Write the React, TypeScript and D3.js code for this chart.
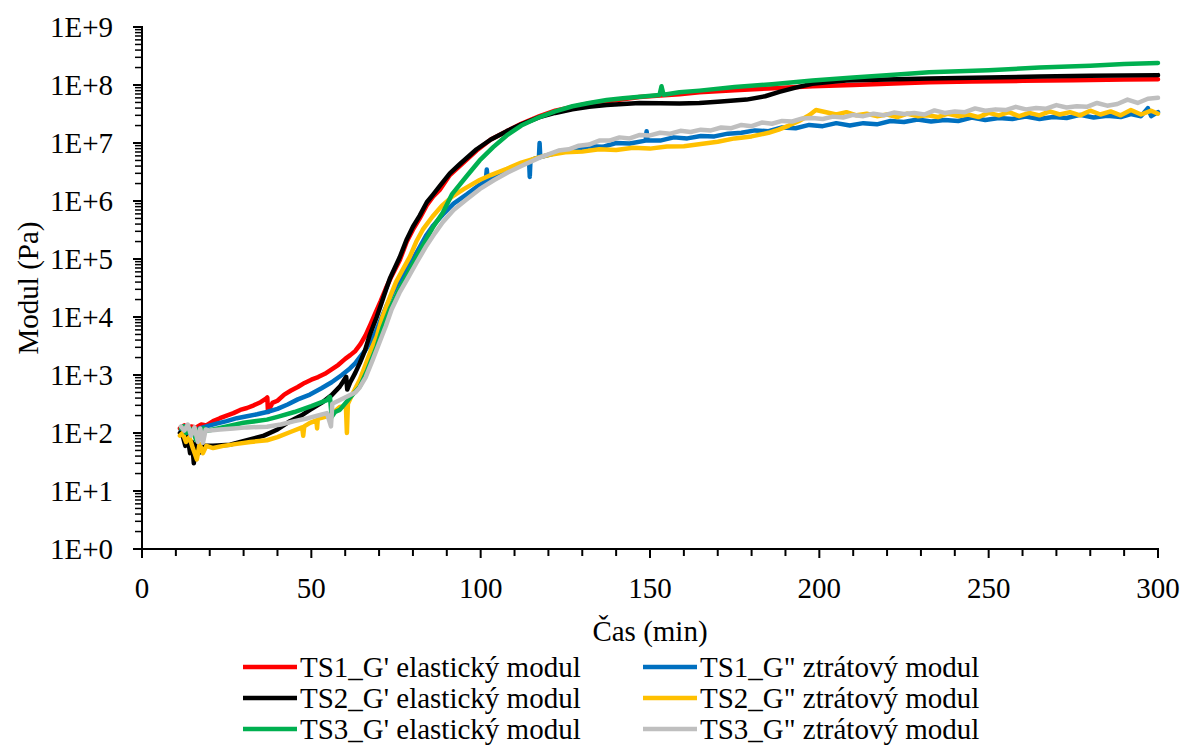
import React from "react";
import * as d3 from "d3";

type Pt = [number, number];

// Time (min), modulus (Pa)
const ts1Elastic: Pt[] = [
  [11.2, 1.2e2], [12.5, 1.35e2], [13.5, 1.15e2], [14.5, 1.3e2], [16, 1.25e2], [17.5, 1.4e2], [19, 1.35e2],
  [21, 1.6e2], [23, 1.8e2], [25, 2.0e2], [27, 2.2e2], [29, 2.5e2], [31, 2.7e2], [33, 3.0e2], [35, 3.4e2],
  [36.6, 3.9e2], [37.0, 4.1e2], [37.2, 2.3e2], [37.6, 2.6e2], [38.5, 3.3e2], [40, 3.6e2], [42, 4.6e2],
  [44, 5.4e2], [46, 6.2e2], [48, 7.3e2], [50, 8.3e2], [52, 9.2e2], [54, 1.05e3], [56, 1.25e3], [58, 1.5e3],
  [60, 1.9e3], [61.5, 2.2e3], [63, 2.6e3], [64.5, 3.4e3], [66, 4.8e3], [67.5, 7.5e3], [69, 1.2e4],
  [70.5, 1.9e4], [72, 3.1e4], [73.5, 4.8e4], [76.1, 9.5e4], [78.2, 2.0e5], [80, 3.2e5], [82, 5.0e5],
  [84.1, 8.5e5], [86, 1.2e6], [87.9, 1.55e6], [90.9, 2.8e6], [93.8, 4.0e6], [98.8, 7.4e6], [103, 1.15e7],
  [107.7, 1.6e7], [112, 2.15e7], [117.4, 2.9e7], [122, 3.6e7], [127.1, 4.2e7], [132, 4.8e7], [137.2, 5.2e7],
  [142, 5.7e7], [146.9, 6.2e7], [153, 6.6e7], [158.7, 6.9e7], [164.6, 7.5e7], [175, 8.1e7], [185, 8.7e7],
  [198, 9.5e7], [210, 1.0e8], [222, 1.06e8], [232.4, 1.12e8], [245, 1.15e8], [260, 1.18e8], [275, 1.21e8],
  [290, 1.24e8], [300, 1.26e8],
];

const ts1Loss: Pt[] = [
  [11.5, 1.1e2], [12.5, 1.3e2], [13.5, 9e1], [14.5, 1.1e2], [16, 1.0e2], [17, 1.2e2], [19, 1.3e2],
  [22, 1.45e2], [25, 1.6e2], [28, 1.8e2], [31, 1.95e2], [34, 2.1e2], [36.9, 2.3e2], [40, 2.6e2],
  [43, 3.1e2], [46, 3.8e2], [49.6, 4.6e2], [53, 5.9e2], [56, 7.5e2], [59, 1.0e3], [61.4, 1.3e3],
  [63, 1.6e3], [64.5, 2.1e3], [66, 2.7e3], [67.3, 3.6e3], [69, 5.5e3], [70.5, 9e3], [72.3, 1.6e4],
  [74, 2.6e4], [76, 4.2e4], [78, 6.6e4], [80, 1.0e5], [82, 1.6e5], [84, 2.6e5], [86, 3.8e5],
  [88.8, 5.8e5], [92, 9.0e5], [95.9, 1.3e6], [99.7, 1.9e6], [101.5, 2.2e6], [101.8, 3.5e6], [102.1, 2.3e6],
  [105, 2.8e6], [108, 3.4e6], [111, 4.0e6], [114.3, 4.8e6], [114.5, 2.6e6], [114.7, 5.0e6], [116, 5.4e6],
  [117.2, 5.6e6], [117.4, 1.0e7], [117.6, 5.7e6], [120, 6.2e6], [124, 7.2e6], [128, 7.6e6], [132, 8.8e6],
  [136, 8.6e6], [140, 1.0e7], [144, 9.8e6], [148.7, 1.1e7], [149, 1.6e7], [149.3, 1.1e7], [153, 1.1e7],
  [157, 1.25e7], [161, 1.2e7], [165, 1.32e7], [169, 1.3e7], [173, 1.45e7], [177, 1.5e7], [181, 1.65e7],
  [185, 1.6e7], [189, 1.85e7], [193, 1.8e7], [197, 2.05e7], [201, 1.95e7], [205, 2.2e7], [209, 2.0e7],
  [213, 2.2e7], [217, 2.1e7], [221, 2.4e7], [225, 2.3e7], [229, 2.55e7], [233, 2.35e7], [237, 2.5e7],
  [241, 2.4e7], [245, 2.75e7], [249, 2.5e7], [253, 2.7e7], [257, 2.6e7], [261, 2.85e7], [265, 2.6e7],
  [269, 2.8e7], [273, 2.7e7], [277, 3.05e7], [281, 2.75e7], [285, 2.95e7], [289, 2.8e7], [292, 3.15e7],
  [295, 2.9e7], [297, 4.0e7], [298, 2.9e7], [300, 3.4e7],
];

const ts2Elastic: Pt[] = [
  [11.2, 1.0e2], [12, 9e1], [12.8, 6e1], [13.5, 8.5e1], [14.2, 4.5e1], [14.8, 7e1], [15.3, 3.0e1],
  [16, 6.5e1], [16.8, 4.5e1], [17.5, 6e1], [18.5, 6e1], [21, 6e1], [26, 6.3e1], [31, 7.5e1], [36, 9e1],
  [40, 1.15e2], [43.7, 1.6e2], [47, 2.0e2], [49.6, 2.5e2], [53, 3.3e2], [56, 4.5e2], [58.4, 6.3e2],
  [60.3, 9.3e2], [60.6, 5.6e2], [61.5, 7.5e2], [63, 1.1e3], [64.3, 1.6e3], [65.8, 2.6e3], [67.3, 5.0e3],
  [69.3, 1.0e4], [70.5, 1.6e4], [72, 2.9e4], [73.2, 4.6e4], [76.1, 1.07e5], [78.2, 2.2e5], [80, 3.6e5],
  [82, 5.6e5], [84.1, 9.5e5], [86, 1.3e6], [87.9, 1.8e6], [90.9, 3.0e6], [93.8, 4.3e6], [98.8, 7.8e6],
  [103, 1.15e7], [107.7, 1.6e7], [112, 2.1e7], [117.4, 2.8e7], [122, 3.3e7], [127.1, 3.8e7], [132, 4.2e7],
  [137.2, 4.5e7], [142, 4.7e7], [146.9, 4.9e7], [153, 4.85e7], [158.7, 4.8e7], [164.6, 4.9e7], [171, 5.2e7],
  [178.5, 5.6e7], [184, 6.4e7], [188.2, 7.6e7], [193, 9.0e7], [197.9, 1.05e8], [203, 1.13e8], [208, 1.2e8],
  [220, 1.25e8], [232.4, 1.3e8], [250, 1.35e8], [265, 1.4e8], [280, 1.44e8], [300, 1.48e8],
];

const ts2Loss: Pt[] = [
  [11.2, 9e1], [12, 1.0e2], [13, 7e1], [14, 8.5e1], [15, 5.5e1], [16.2, 3.5e1], [17, 6.5e1], [18, 4.5e1],
  [19, 6e1], [21, 5.5e1], [24, 6e1], [28, 6.5e1], [32, 7e1], [36.9, 7.5e1], [40, 8.5e1], [44, 1.05e2],
  [47.3, 1.25e2], [47.6, 9e1], [47.9, 1.3e2], [49.6, 1.5e2], [51.5, 1.65e2], [51.7, 1.2e2], [51.9, 1.75e2],
  [55.5, 2.0e2], [58.4, 2.8e2], [60.2, 2.9e2], [60.5, 1.0e2], [60.8, 3.2e2], [62, 4.5e2], [64.3, 8.3e2],
  [66, 1.5e3], [67.5, 2.6e3], [69.3, 4.6e3], [71, 1.0e4], [73.2, 2.2e4], [75, 4.0e4], [77, 6.6e4],
  [79.1, 1.1e5], [81, 2.0e5], [82.9, 3.2e5], [85.8, 5.4e5], [88.5, 8.2e5], [91.7, 1.2e6], [95, 1.6e6],
  [99.7, 2.3e6], [103, 2.8e6], [107.7, 3.6e6], [112, 4.6e6], [117.4, 5.7e6], [120, 6.2e6], [125, 6.9e6],
  [130, 7.1e6], [135, 7.8e6], [140, 7.6e6], [145, 8.3e6], [150, 8.0e6], [155, 8.7e6], [160, 8.8e6],
  [165, 9.6e6], [170, 1.05e7], [175, 1.2e7], [180, 1.3e7], [185, 1.5e7], [188, 1.7e7], [191, 2.0e7],
  [194, 2.4e7], [197, 3.0e7], [199, 3.7e7], [202, 3.4e7], [205, 3.1e7], [208, 3.4e7], [211, 3.0e7],
  [214, 3.2e7], [217, 2.9e7], [220, 3.1e7], [223, 2.8e7], [226, 3.2e7], [229, 2.9e7], [232, 3.0e7],
  [235, 2.8e7], [238, 3.2e7], [241, 2.9e7], [244, 3.1e7], [247, 2.8e7], [250, 3.3e7], [253, 3.0e7],
  [256, 3.4e7], [259, 2.9e7], [262, 3.3e7], [265, 3.0e7], [268, 3.5e7], [271, 3.1e7], [274, 3.4e7],
  [277, 3.0e7], [280, 3.6e7], [283, 3.1e7], [286, 3.5e7], [289, 3.0e7], [292, 3.7e7], [295, 3.1e7],
  [298, 3.6e7], [300, 3.2e7],
];

const ts3Elastic: Pt[] = [
  [11.5, 1.2e2], [12.2, 1.3e2], [13, 1.0e2], [14, 1.2e2], [15, 1.1e2], [16, 7.5e1], [16.8, 1.15e2],
  [17.5, 8e1], [18.3, 1.2e2], [19.5, 1.1e2], [21, 1.15e2], [25, 1.3e2], [30, 1.5e2], [36.9, 1.7e2],
  [40, 1.9e2], [45, 2.3e2], [50, 2.9e2], [54.6, 3.7e2], [55.5, 4.2e2], [56, 1.9e2], [57, 2.3e2],
  [58.4, 2.5e2], [61, 3.8e2], [64.3, 6.3e2], [66.5, 1.2e3], [69.3, 3.1e3], [71, 6.5e3], [73.2, 1.4e4],
  [76, 3.0e4], [78.2, 5.2e4], [81.1, 1.1e5], [84, 2.2e5], [86, 3.6e5], [88.8, 6.3e5], [91.5, 1.3e6],
  [95.9, 2.7e6], [99.7, 5.0e6], [103.7, 8.5e6], [107.7, 1.35e7], [112, 2.0e7], [117.4, 2.8e7], [122, 3.5e7],
  [127.1, 4.3e7], [132, 4.9e7], [137.2, 5.5e7], [142, 5.9e7], [147, 6.3e7], [152.8, 6.7e7], [153.4, 9.5e7],
  [154, 6.8e7], [158.7, 7.5e7], [164.6, 8.0e7], [175, 9.2e7], [186, 1.03e8], [198, 1.2e8], [210, 1.35e8],
  [222, 1.5e8], [232.4, 1.66e8], [250, 1.8e8], [265, 2.0e8], [280, 2.15e8], [290, 2.3e8], [300, 2.4e8],
];

const ts3Loss: Pt[] = [
  [11.5, 1.3e2], [12.5, 1.1e2], [13.5, 1.4e2], [14.5, 9e1], [15.5, 1.25e2], [16.5, 7e1], [17.2, 1.2e2],
  [18, 6.8e1], [18.8, 1.15e2], [20, 1.1e2], [23, 1.15e2], [27, 1.2e2], [31, 1.25e2], [36.9, 1.28e2],
  [41, 1.4e2], [45, 1.6e2], [49, 1.8e2], [52, 2.0e2], [54.6, 2.2e2], [55.8, 1.3e2], [56.2, 3.2e2],
  [58, 3.6e2], [61, 4.4e2], [63, 5.0e2], [64.2, 6.0e2], [66, 9.0e2], [68.1, 1.8e3], [70, 3.5e3],
  [72, 7.0e3], [73.7, 1.35e4], [76, 2.6e4], [78.5, 4.7e4], [81.1, 8.7e4], [84, 1.7e5], [86.5, 2.8e5],
  [88.8, 4.3e5], [92, 7.0e5], [95.9, 1.07e6], [99.7, 1.6e6], [104, 2.3e6], [108, 3.1e6], [112, 4.0e6],
  [117.4, 5.6e6], [120, 6.4e6], [123, 7.4e6], [126, 7.8e6], [129, 9.0e6], [132, 9.4e6], [135, 1.1e7],
  [138, 1.1e7], [141, 1.25e7], [144, 1.2e7], [147, 1.38e7], [150, 1.35e7], [153, 1.5e7], [156, 1.45e7],
  [159, 1.62e7], [162, 1.55e7], [165, 1.7e7], [168, 1.65e7], [171, 1.85e7], [174, 1.8e7], [177, 2.05e7],
  [180, 1.95e7], [183, 2.25e7], [186, 2.15e7], [189, 2.4e7], [192, 2.35e7], [195, 2.65e7], [198, 2.7e7],
  [201, 2.6e7], [204, 2.85e7], [207, 2.75e7], [210, 3.05e7], [213, 2.9e7], [216, 3.2e7], [219, 3.0e7],
  [222, 3.35e7], [225, 3.15e7], [228, 3.3e7], [231, 3.1e7], [234, 3.65e7], [237, 3.3e7], [240, 3.5e7],
  [243, 3.4e7], [246, 3.95e7], [249, 3.6e7], [252, 3.8e7], [255, 3.7e7], [258, 4.2e7], [261, 3.8e7],
  [264, 4.0e7], [267, 3.9e7], [270, 4.5e7], [273, 4.1e7], [276, 4.3e7], [279, 4.2e7], [282, 4.9e7],
  [285, 4.4e7], [288, 4.7e7], [291, 5.6e7], [294, 4.9e7], [297, 5.8e7], [300, 6.0e7],
];

const seriesNames = [
  "TS1_G' elastický modul",
  'TS1_G" ztrátový modul',
  "TS2_G' elastický modul",
  'TS2_G" ztrátový modul',
  "TS3_G' elastický modul",
  'TS3_G" ztrátový modul',
];
const seriesColors = ["#FF0000", "#0070C0", "#000000", "#FFC000", "#00B050", "#BFBFBF"];
const seriesData = [ts1Elastic, ts1Loss, ts2Elastic, ts2Loss, ts3Elastic, ts3Loss];

const xMajorTicks = [0, 50, 100, 150, 200, 250, 300];
const yExponents = [0, 1, 2, 3, 4, 5, 6, 7, 8, 9];
const xTitle = "Čas (min)";
const yTitle = "Modul (Pa)";

const W = 1184;
const H = 749;
const FONT = '"Liberation Serif", "Times New Roman", "DejaVu Serif", serif';
const textStyle = { fontFamily: FONT, fontSize: "29px" };

export default function App() {
  const left = 142, right = 1158, top = 27, bottom = 549;
  const x = d3.scaleLinear().domain([0, 300]).range([left, right]);
  const y = d3.scaleLog().domain([1, 1e9]).range([bottom, top]);
  const line = d3.line<Pt>().x((d) => x(d[0])).y((d) => y(d[1]));

  const xMinor = d3.range(0, 301, 10).filter((v) => v % 50 !== 0);
  const yMinor: number[] = [];
  yExponents.slice(0, -1).forEach((k) => {
    for (let m = 2; m <= 9; m++) yMinor.push(m * Math.pow(10, k));
  });

  const legendCols = [243, 643];
  const legendRows = [667, 698, 729];

  return (
    <div style={{ position: "absolute", left: 0, top: 0 }}>
      <svg width={W} height={H} style={{ display: "block", background: "#fff" }}>
        <rect x={0} y={0} width={W} height={H} fill="#fff" />
        {seriesData.map((d, i) => (
          <path
            key={i}
            d={line(d) || ""}
            fill="none"
            stroke={seriesColors[i]}
            strokeWidth={4.5}
            strokeLinejoin="round"
            strokeLinecap="round"
          />
        ))}
        <line x1={left} x2={left} y1={top - 1} y2={bottom} stroke="#000" strokeWidth={2} />
        <line x1={left - 1} x2={right + 1} y1={bottom} y2={bottom} stroke="#000" strokeWidth={2} />
        {yExponents.map((k) => (
          <g key={"ym" + k}>
            <line x1={left - 9} x2={left} y1={y(Math.pow(10, k))} y2={y(Math.pow(10, k))} stroke="#000" strokeWidth={2} />
            <text x={113} y={y(Math.pow(10, k))} dy="0.35em" textAnchor="end" style={textStyle} fill="#000">
              {`1E+${k}`}
            </text>
          </g>
        ))}
        {yMinor.map((v, i) => (
          <line key={"yn" + i} x1={left - 7} x2={left} y1={y(v)} y2={y(v)} stroke="#000" strokeWidth={1.5} />
        ))}
        {xMajorTicks.map((t) => (
          <g key={"xm" + t}>
            <line x1={x(t)} x2={x(t)} y1={bottom} y2={bottom + 9} stroke="#000" strokeWidth={2} />
            <text x={x(t)} y={598} textAnchor="middle" style={textStyle} fill="#000">
              {t}
            </text>
          </g>
        ))}
        {xMinor.map((t) => (
          <line key={"xn" + t} x1={x(t)} x2={x(t)} y1={bottom} y2={bottom + 7} stroke="#000" strokeWidth={2} />
        ))}
        <text x={(left + right) / 2} y={641} textAnchor="middle" style={textStyle} fill="#000">
          {xTitle}
        </text>
        <text
          transform={`translate(38, ${(top + bottom) / 2}) rotate(-90)`}
          textAnchor="middle"
          style={textStyle}
          fill="#000"
        >
          {yTitle}
        </text>
        {seriesNames.map((name, i) => {
          const cx = legendCols[i % 2];
          const cy = legendRows[Math.floor(i / 2)];
          return (
            <g key={"lg" + i}>
              <line x1={cx} x2={cx + 54} y1={cy} y2={cy} stroke={seriesColors[i]} strokeWidth={4.5} />
              <text x={cx + 57} y={cy} dy="0.33em" style={textStyle} fill="#000">
                {name}
              </text>
            </g>
          );
        })}
      </svg>
    </div>
  );
}
